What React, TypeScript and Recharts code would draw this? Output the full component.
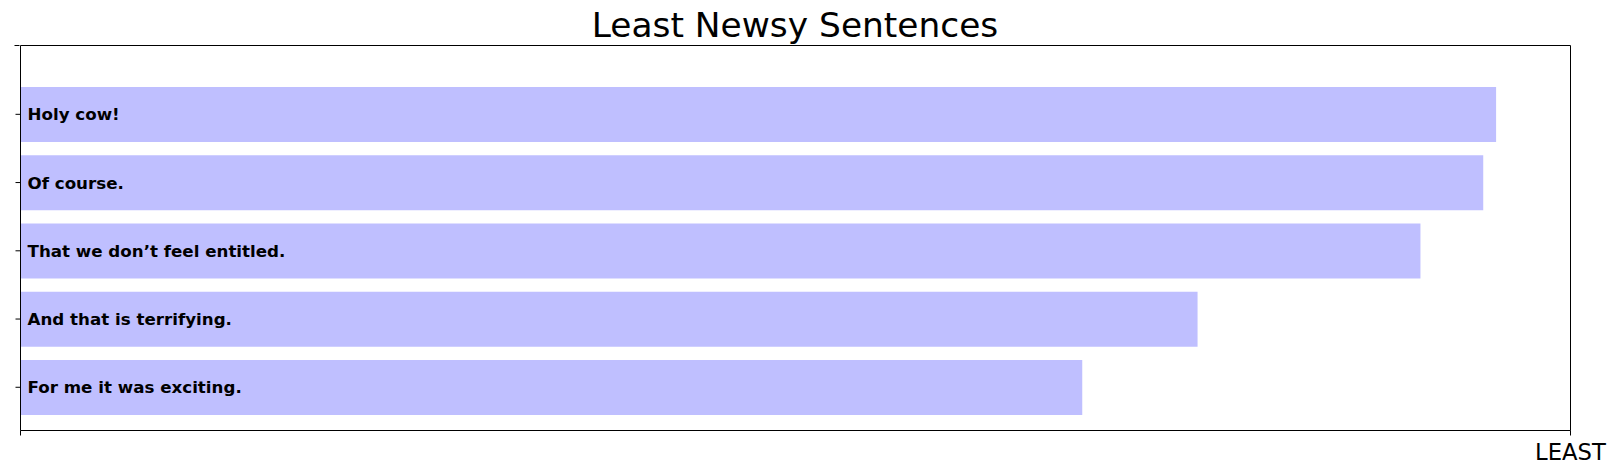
import React from 'react';
import { BarChart, Bar, XAxis, YAxis, LabelList } from 'recharts';

const categories = [
  'Holy cow!',
  'Of course.',
  'That we don’t feel entitled.',
  'And that is terrifying.',
  'For me it was exciting.',
];
const values = [0.952, 0.9437, 0.9032, 0.7594, 0.685];
const xTicks = [0, 1];
const xTickLabels = ['', 'LEAST'];
const title = 'Least Newsy Sentences';

const data = categories.map((name, i) => ({ name, value: values[i] }));

const FONT = '"DejaVu Sans", sans-serif';

const XTick = (props: any) => {
  const { x, y, payload } = props;
  const idx = xTicks.indexOf(payload.value);
  return (
    <text x={x} y={y + 22} textAnchor="middle" fontSize={22.7} fontFamily={FONT} fill="#000">
      {idx >= 0 ? xTickLabels[idx] : ''}
    </text>
  );
};

export default function App() {
  return (
    <div style={{ position: 'absolute', left: 0, top: 0, width: 1617, height: 474, background: '#fff' }}>
      <svg width={1617} height={50} style={{ position: 'absolute', left: 0, top: 0 }}>
        <text x={795} y={36.5} textAnchor="middle" fontSize={34.4} fontFamily={FONT} fill="#000">
          {title}
        </text>
      </svg>
      <div style={{ position: 'absolute', left: 0, top: 0 }}>
        <BarChart
          width={1617}
          height={474}
          data={data}
          layout="vertical"
          margin={{ top: 44.5, right: 45.5, left: 18.5, bottom: 13.5 }}
          barCategoryGap="10%"
        >
          <XAxis
            type="number"
            domain={[0, 1]}
            ticks={xTicks}
            allowDataOverflow
            height={30}
            tickSize={5}
            stroke="#000"
            tickLine={{ stroke: '#000' }}
            axisLine={{ stroke: '#000' }}
            tick={<XTick />}
          />
          <XAxis
            xAxisId="top"
            orientation="top"
            type="number"
            domain={[0, 1]}
            allowDataOverflow
            height={1}
            tick={false}
            tickLine={false}
            stroke="#000"
            axisLine={{ stroke: '#000' }}
          />
          <YAxis
            type="category"
            dataKey="name"
            width={1}
            tickSize={5}
            padding={{ top: 34.7, bottom: 9.1 }}
            tickFormatter={() => ''}
            stroke="#000"
            tickLine={{ stroke: '#000' }}
            axisLine={{ stroke: '#000' }}
          />
          <YAxis
            yAxisId="topTick"
            type="number"
            dataKey="value"
            domain={[0, 1]}
            ticks={[0]}
            allowDataOverflow
            width={1}
            tickSize={5}
            tickFormatter={() => ''}
            stroke="#000"
            tickLine={{ stroke: '#000' }}
            axisLine={false}
          />
          <YAxis
            yAxisId="right"
            orientation="right"
            type="number"
            domain={[0, 1]}
            allowDataOverflow
            width={1}
            tick={false}
            tickLine={false}
            stroke="#000"
            axisLine={{ stroke: '#000' }}
          />
          <Bar dataKey="value" fill="#bfbfff" isAnimationActive={false}>
            <LabelList
              dataKey="name"
              position="insideLeft"
              offset={7}
              fill="#000"
              fontSize={16.7}
              fontWeight="bold"
              fontFamily={FONT}
            />
          </Bar>
        </BarChart>
      </div>
    </div>
  );
}
